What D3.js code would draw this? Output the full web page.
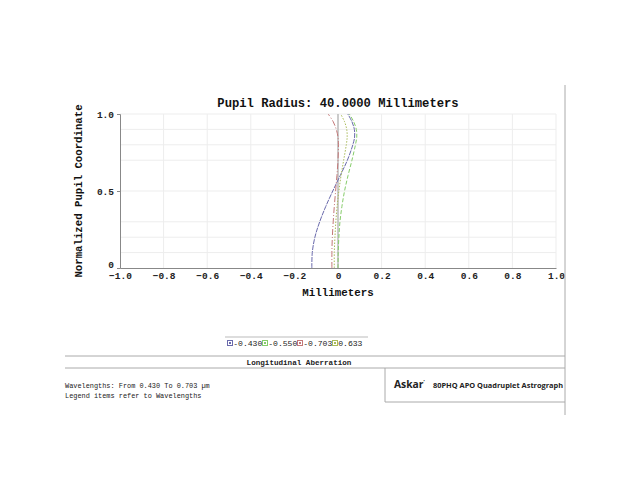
<!DOCTYPE html>
<html><head><meta charset="utf-8">
<script src="https://cdn.jsdelivr.net/npm/d3@7"></script>
<style>body{margin:0;background:#fff}svg{display:block}</style>
</head><body>
<svg id="c" width="630" height="500"></svg>
<script>
const pupil = [0,0.1,0.2,0.3,0.4,0.5,0.6,0.7,0.8,0.85,0.9,0.95,1.0];
const w430 = [-0.120,-0.118,-0.106,-0.084,-0.056,-0.024,0.010,0.043,0.068,0.076,0.075,0.064,0.045];
const w550 = [0.000,0.001,0.004,0.009,0.018,0.030,0.046,0.064,0.080,0.086,0.084,0.072,0.052];
const w703 = [-0.028,-0.028,-0.026,-0.022,-0.017,-0.011,-0.005,0.000,0.002,0.000,-0.008,-0.022,-0.045];
const w633 = [-0.017,-0.017,-0.014,-0.010,-0.004,0.004,0.014,0.026,0.038,0.042,0.040,0.030,0.012];
const legendLabels = ["-0.430","-0.550","-0.703"," 0.633"];
const xTicks = [-1.0,-0.8,-0.6,-0.4,-0.2,0,0.2,0.4,0.6,0.8,1.0];
const yTicks = [0,0.5,1.0];
const yGrid = [0.1,0.2,0.3,0.5,0.7,0.8,0.9,1.0];

const series = [
  {vals:w430, color:"#6a6aac", dash:"5,1"},
  {vals:w550, color:"#86cc6a", dash:"4,2"},
  {vals:w703, color:"#c47878", dash:"6,2,1,2"},
  {vals:w633, color:"#aabb5a", dash:"1.5,1.5"}
];

const svg = d3.select("#c");
const mono = "'Liberation Mono','DejaVu Sans Mono',monospace";
const x = d3.scaleLinear().domain([-1,1]).range([120,556]);
const y = d3.scaleLinear().domain([0,1]).range([268,114]);

// grid
svg.append("g").selectAll("line").data(xTicks.slice(1)).join("line")
  .attr("x1",d=>x(d)).attr("x2",d=>x(d)).attr("y1",y(0)).attr("y2",y(1))
  .attr("stroke","#ededed").attr("stroke-width",1);
svg.append("g").selectAll("line").data(yGrid).join("line")
  .attr("x1",x(-1)).attr("x2",x(1)).attr("y1",d=>y(d)).attr("y2",d=>y(d))
  .attr("stroke","#ededed").attr("stroke-width",1);

// zero line
svg.append("line").attr("x1",x(0)).attr("x2",x(0)).attr("y1",y(0)).attr("y2",y(1))
  .attr("stroke","#a0a0a0").attr("stroke-width",1);

// axes
const xa = svg.append("g").attr("transform",`translate(0,${y(0)})`)
  .call(d3.axisBottom(x).tickValues(xTicks).tickSize(0).tickPadding(4)
    .tickFormat(d=>d===0?"0":d3.format(".1f")(d)));
xa.select(".domain").attr("stroke","#888");
xa.selectAll("text").attr("font-family",mono).attr("font-size",9.5).attr("font-weight","bold").attr("fill","#222");

const ya = svg.append("g").attr("transform",`translate(${x(-1)},0)`)
  .call(d3.axisLeft(y).tickValues(yTicks).tickSize(3).tickPadding(3)
    .tickFormat(d=>d===0?"0":d3.format(".1f")(d)));
ya.select(".domain").attr("stroke","#888");
ya.selectAll("line").attr("stroke","#888");
ya.selectAll("text").attr("font-family",mono).attr("font-size",9.5).attr("font-weight","bold").attr("fill","#222")
  .attr("dy",d=>d===0?"-0.05em":"0.32em");

// curves
const line = d3.line().curve(d3.curveCatmullRom).x(d=>x(d[0])).y(d=>y(d[1]));
svg.append("g").selectAll("path").data(series).join("path")
  .attr("d",s=>line(s.vals.map((v,i)=>[v,pupil[i]])))
  .attr("fill","none").attr("stroke",s=>s.color).attr("stroke-width",1)
  .attr("stroke-dasharray",s=>s.dash);

// titles
svg.append("text").attr("x",338).attr("y",107).attr("text-anchor","middle")
  .attr("font-family",mono).attr("font-weight","bold").attr("font-size",12.2).attr("fill","#111")
  .text("Pupil Radius: 40.0000 Millimeters");
svg.append("text").attr("transform",`translate(82,${y(0.5)}) rotate(-90)`).attr("text-anchor","middle")
  .attr("font-family",mono).attr("font-weight","bold").attr("font-size",10.7).attr("fill","#111")
  .text("Normalized Pupil Coordinate");
svg.append("text").attr("x",338).attr("y",296).attr("text-anchor","middle")
  .attr("font-family",mono).attr("font-weight","bold").attr("font-size",10.8).attr("fill","#111")
  .text("Millimeters");

// legend
svg.append("line").attr("x1",225).attr("x2",368).attr("y1",337).attr("y2",337).attr("stroke","#bbb");
const lg = svg.append("g").selectAll("g").data(legendLabels).join("g")
  .attr("transform",(d,i)=>`translate(${227+i*35},346)`);
lg.append("rect").attr("x",0.5).attr("y",-5.5).attr("width",5).attr("height",5)
  .attr("fill","#fff").attr("stroke",(d,i)=>series[i].color).attr("stroke-width",1);
lg.append("rect").attr("x",2).attr("y",-4).attr("width",2).attr("height",2)
  .attr("fill",(d,i)=>series[i].color);
lg.append("text").attr("x",6.2).attr("y",0).attr("font-family",mono).attr("font-size",8.1).attr("fill","#222")
  .text(d=>d);

// footer frame
const frame = [[65,356,565,356],[65,368,565,368],[385,368,385,402],[385,402,565,402],[565,85,565,415]];
svg.append("g").selectAll("line").data(frame).join("line")
  .attr("x1",d=>d[0]).attr("y1",d=>d[1]).attr("x2",d=>d[2]).attr("y2",d=>d[3])
  .attr("stroke","#aaa").attr("stroke-width",1);
svg.append("text").attr("x",299).attr("y",365).attr("text-anchor","middle")
  .attr("font-family",mono).attr("font-weight","bold").attr("font-size",7.6).attr("fill","#222")
  .text("Longitudinal Aberration");
svg.append("text").attr("x",65).attr("y",388).attr("font-family",mono).attr("font-size",6.9).attr("fill","#222")
  .text("Wavelengths: From 0.430 To 0.703 µm");
svg.append("text").attr("x",65).attr("y",398).attr("font-family",mono).attr("font-size",6.9).attr("fill","#222")
  .text("Legend items refer to Wavelengths");
const ask = svg.append("text").attr("x",394).attr("y",388).attr("font-family","'Open Sans',sans-serif")
  .attr("font-weight","bold").attr("font-size",10.3).attr("fill","#222");
ask.append("tspan").text("Askar");
ask.append("tspan").attr("dy",-4).attr("font-size",5.5).text("ʼ");
svg.append("text").attr("x",433).attr("y",388).attr("font-family","'Open Sans',sans-serif")
  .attr("font-weight","bold").attr("font-size",7.4).attr("fill","#222")
  .text("80PHQ APO Quadruplet Astrograph");
</script>
</body></html>
